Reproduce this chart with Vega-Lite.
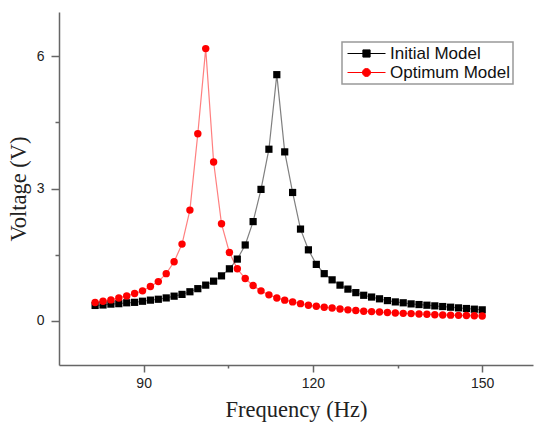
{
  "$schema": "https://vega.github.io/schema/vega-lite/v6.json",
  "autosize": {"type": "none"},
  "padding": {"left": 59, "top": 12, "right": 1, "bottom": 61},
  "width": 474,
  "height": 353,
  "background": "white",
  "config": {"view": {"stroke": null}},
  "data": {"values": [
    {"f": 81.4, "v": 0.35, "s": "Initial Model"},
    {"f": 82.8, "v": 0.36, "s": "Initial Model"},
    {"f": 84.2, "v": 0.38, "s": "Initial Model"},
    {"f": 85.6, "v": 0.39, "s": "Initial Model"},
    {"f": 87.0, "v": 0.41, "s": "Initial Model"},
    {"f": 88.4, "v": 0.42, "s": "Initial Model"},
    {"f": 89.8, "v": 0.445, "s": "Initial Model"},
    {"f": 91.2, "v": 0.47, "s": "Initial Model"},
    {"f": 92.6, "v": 0.49, "s": "Initial Model"},
    {"f": 94.0, "v": 0.52, "s": "Initial Model"},
    {"f": 95.4, "v": 0.56, "s": "Initial Model"},
    {"f": 96.8, "v": 0.60, "s": "Initial Model"},
    {"f": 98.2, "v": 0.66, "s": "Initial Model"},
    {"f": 99.6, "v": 0.73, "s": "Initial Model"},
    {"f": 101.0, "v": 0.81, "s": "Initial Model"},
    {"f": 102.4, "v": 0.90, "s": "Initial Model"},
    {"f": 103.8, "v": 1.02, "s": "Initial Model"},
    {"f": 105.2, "v": 1.18, "s": "Initial Model"},
    {"f": 106.6, "v": 1.40, "s": "Initial Model"},
    {"f": 108.0, "v": 1.72, "s": "Initial Model"},
    {"f": 109.4, "v": 2.25, "s": "Initial Model"},
    {"f": 110.8, "v": 2.98, "s": "Initial Model"},
    {"f": 112.2, "v": 3.89, "s": "Initial Model"},
    {"f": 113.6, "v": 5.58, "s": "Initial Model"},
    {"f": 115.0, "v": 3.83, "s": "Initial Model"},
    {"f": 116.4, "v": 2.91, "s": "Initial Model"},
    {"f": 117.8, "v": 2.08, "s": "Initial Model"},
    {"f": 119.2, "v": 1.61, "s": "Initial Model"},
    {"f": 120.6, "v": 1.28, "s": "Initial Model"},
    {"f": 122.0, "v": 1.07, "s": "Initial Model"},
    {"f": 123.4, "v": 0.93, "s": "Initial Model"},
    {"f": 124.8, "v": 0.81, "s": "Initial Model"},
    {"f": 126.2, "v": 0.72, "s": "Initial Model"},
    {"f": 127.6, "v": 0.64, "s": "Initial Model"},
    {"f": 129.0, "v": 0.58, "s": "Initial Model"},
    {"f": 130.4, "v": 0.54, "s": "Initial Model"},
    {"f": 131.8, "v": 0.50, "s": "Initial Model"},
    {"f": 133.2, "v": 0.46, "s": "Initial Model"},
    {"f": 134.6, "v": 0.43, "s": "Initial Model"},
    {"f": 136.0, "v": 0.41, "s": "Initial Model"},
    {"f": 137.4, "v": 0.385, "s": "Initial Model"},
    {"f": 138.8, "v": 0.37, "s": "Initial Model"},
    {"f": 140.2, "v": 0.355, "s": "Initial Model"},
    {"f": 141.6, "v": 0.34, "s": "Initial Model"},
    {"f": 143.0, "v": 0.325, "s": "Initial Model"},
    {"f": 144.4, "v": 0.31, "s": "Initial Model"},
    {"f": 145.8, "v": 0.295, "s": "Initial Model"},
    {"f": 147.2, "v": 0.28, "s": "Initial Model"},
    {"f": 148.6, "v": 0.265, "s": "Initial Model"},
    {"f": 150.0, "v": 0.25, "s": "Initial Model"},
    {"f": 81.4, "v": 0.415, "s": "Optimum Model"},
    {"f": 82.8, "v": 0.445, "s": "Optimum Model"},
    {"f": 84.2, "v": 0.475, "s": "Optimum Model"},
    {"f": 85.6, "v": 0.52, "s": "Optimum Model"},
    {"f": 87.0, "v": 0.566, "s": "Optimum Model"},
    {"f": 88.4, "v": 0.62, "s": "Optimum Model"},
    {"f": 89.8, "v": 0.68, "s": "Optimum Model"},
    {"f": 91.2, "v": 0.78, "s": "Optimum Model"},
    {"f": 92.6, "v": 0.89, "s": "Optimum Model"},
    {"f": 94.0, "v": 1.07, "s": "Optimum Model"},
    {"f": 95.4, "v": 1.34, "s": "Optimum Model"},
    {"f": 96.8, "v": 1.74, "s": "Optimum Model"},
    {"f": 98.2, "v": 2.51, "s": "Optimum Model"},
    {"f": 99.6, "v": 4.24, "s": "Optimum Model"},
    {"f": 101.0, "v": 6.17, "s": "Optimum Model"},
    {"f": 102.4, "v": 3.60, "s": "Optimum Model"},
    {"f": 103.8, "v": 2.20, "s": "Optimum Model"},
    {"f": 105.2, "v": 1.55, "s": "Optimum Model"},
    {"f": 106.6, "v": 1.18, "s": "Optimum Model"},
    {"f": 108.0, "v": 0.96, "s": "Optimum Model"},
    {"f": 109.4, "v": 0.80, "s": "Optimum Model"},
    {"f": 110.8, "v": 0.68, "s": "Optimum Model"},
    {"f": 112.2, "v": 0.59, "s": "Optimum Model"},
    {"f": 113.6, "v": 0.52, "s": "Optimum Model"},
    {"f": 115.0, "v": 0.47, "s": "Optimum Model"},
    {"f": 116.4, "v": 0.43, "s": "Optimum Model"},
    {"f": 117.8, "v": 0.39, "s": "Optimum Model"},
    {"f": 119.2, "v": 0.355, "s": "Optimum Model"},
    {"f": 120.6, "v": 0.33, "s": "Optimum Model"},
    {"f": 122.0, "v": 0.31, "s": "Optimum Model"},
    {"f": 123.4, "v": 0.29, "s": "Optimum Model"},
    {"f": 124.8, "v": 0.27, "s": "Optimum Model"},
    {"f": 126.2, "v": 0.25, "s": "Optimum Model"},
    {"f": 127.6, "v": 0.235, "s": "Optimum Model"},
    {"f": 129.0, "v": 0.22, "s": "Optimum Model"},
    {"f": 130.4, "v": 0.21, "s": "Optimum Model"},
    {"f": 131.8, "v": 0.20, "s": "Optimum Model"},
    {"f": 133.2, "v": 0.19, "s": "Optimum Model"},
    {"f": 134.6, "v": 0.18, "s": "Optimum Model"},
    {"f": 136.0, "v": 0.17, "s": "Optimum Model"},
    {"f": 137.4, "v": 0.165, "s": "Optimum Model"},
    {"f": 138.8, "v": 0.155, "s": "Optimum Model"},
    {"f": 140.2, "v": 0.15, "s": "Optimum Model"},
    {"f": 141.6, "v": 0.14, "s": "Optimum Model"},
    {"f": 143.0, "v": 0.135, "s": "Optimum Model"},
    {"f": 144.4, "v": 0.13, "s": "Optimum Model"},
    {"f": 145.8, "v": 0.125, "s": "Optimum Model"},
    {"f": 147.2, "v": 0.12, "s": "Optimum Model"},
    {"f": 148.6, "v": 0.115, "s": "Optimum Model"},
    {"f": 150.0, "v": 0.11, "s": "Optimum Model"}
  ]},
  "encoding": {
    "x": {
      "field": "f", "type": "quantitative",
      "scale": {"domain": [75, 159], "nice": false, "zero": false},
      "axis": {
        "title": "Frequency (Hz)",
        "values": [90, 105, 120, 135, 150],
        "labelExpr": "datum.value % 30 === 0 ? datum.label : ''",
        "grid": false,
        "domainColor": "#666", "domainWidth": 1.5,
        "tickColor": "#666", "tickWidth": 1.5,
        "tickSize": {"condition": {"test": "datum.value % 30 === 0", "value": 7}, "value": 3},
        "labelFont": "Liberation Sans", "labelFontSize": 14, "labelColor": "#222",
        "labelPadding": 4,
        "titleFont": "Liberation Serif", "titleFontSize": 22.5, "titleFontWeight": "normal", "titleColor": "#222",
        "titlePadding": 8
      }
    },
    "y": {
      "field": "v", "type": "quantitative",
      "scale": {"domain": [-1, 7], "nice": false, "zero": false},
      "axis": {
        "title": "Voltage (V)",
        "values": [0, 1.5, 3, 4.5, 6],
        "labelExpr": "datum.value % 3 === 0 ? datum.label : ''",
        "grid": false,
        "domainColor": "#666", "domainWidth": 1.5,
        "tickColor": "#666", "tickWidth": 1.5,
        "tickSize": {"condition": {"test": "datum.value % 3 === 0", "value": 8}, "value": 4},
        "labelFont": "Liberation Sans", "labelFontSize": 14, "labelColor": "#222",
        "labelPadding": 7,
        "titleFont": "Liberation Serif", "titleFontSize": 22.5, "titleFontWeight": "normal", "titleColor": "#222",
        "titlePadding": 6
      }
    },
    "color": {
      "field": "s", "type": "nominal",
      "scale": {"domain": ["Initial Model", "Optimum Model"], "range": ["#000000", "#ff0000"]},
      "legend": {
        "title": null,
        "orient": "none",
        "legendX": 283,
        "legendY": 30,
        "padding": 3,
        "rowPadding": 1,
        "strokeColor": "#999",
        "fillColor": "white",
        "symbolSize": 100,
        "symbolOffset": 13,
        "labelOffset": 15,
        "labelFont": "Liberation Sans",
        "labelFontSize": 17,
        "labelColor": "#111",
        "symbolOpacity": 1,
        "encode": {
          "legend": {"update": {"strokeWidth": {"value": 1.5}}},
          "symbols": {
            "update": {
              "shape": {"signal": "datum.value === 'Initial Model' ? 'M-3.8,0H3.8M-0.72,-0.72H0.72V0.72H-0.72Z' : 'M-0.8,0A0.8,0.8 0 1,1 0.8,0A0.8,0.8 0 1,1 -0.8,0ZM-3.8,0H3.8'"},
              "fill": {"signal": "datum.value === 'Initial Model' ? '#000000' : '#ff0000'"},
              "stroke": {"signal": "datum.value === 'Initial Model' ? '#888888' : '#ff6666'"},
              "strokeWidth": {"value": 1},
              "opacity": {"value": 1}
            }
          }
        }
      }
    }
  },
  "layer": [
    {
      "mark": {"type": "line", "strokeWidth": 1.2, "opacity": 0.5},
      "encoding": {"detail": {"field": "s"}}
    },
    {
      "transform": [{"filter": "datum.s === 'Initial Model'"}],
      "mark": {"type": "point", "filled": true, "opacity": 1, "size": 52, "shape": "square"}
    },
    {
      "transform": [{"filter": "datum.s === 'Optimum Model'"}],
      "mark": {"type": "point", "filled": true, "opacity": 1, "size": 55, "shape": "circle"}
    }
  ]
}
